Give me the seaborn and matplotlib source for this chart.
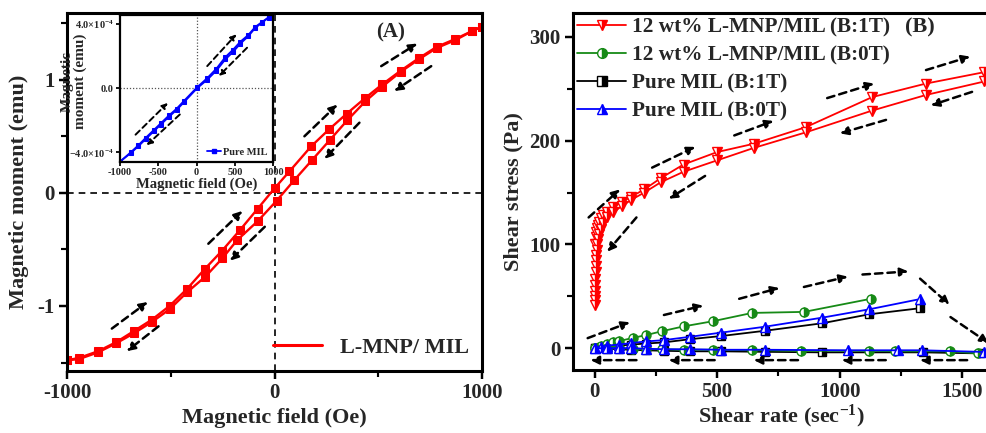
import numpy as np
import pandas as pd
import matplotlib
matplotlib.use("Agg")
import matplotlib.pyplot as plt
from matplotlib.lines import Line2D
from matplotlib.ticker import MultipleLocator
import seaborn as sns

# ---------------- (A) magnetisation loop of L-MNP/MIL ----------------
field_desc = [1000, 952, 871, 781, 695, 608, 520, 438, 348, 262, 176, 72, 0,
              -81, -167, -252, -337, -422, -506, -590, -676, -763, -850, -943, -1000]
moment_desc = [1.47, 1.43, 1.36, 1.29, 1.19, 1.08, 0.96, 0.84, 0.70, 0.56, 0.41, 0.19, 0.04,
               -0.14, -0.33, -0.51, -0.675, -0.85, -1.0, -1.12, -1.22, -1.32, -1.40, -1.46, -1.48]
field_asc = [-1000, -943, -850, -763, -676, -590, -506, -422, -333, -252, -181, -81, 10,
             94, 181, 268, 350, 438, 520, 608, 695, 781, 871, 952, 1000]
moment_asc = [-1.48, -1.47, -1.41, -1.33, -1.24, -1.14, -1.03, -0.88, -0.74, -0.58, -0.42, -0.25, -0.07,
              0.11, 0.29, 0.47, 0.64, 0.81, 0.94, 1.07, 1.18, 1.28, 1.35, 1.43, 1.47]

# inset: pure MIL
pm_field_asc = [-1000, -860, -760, -665, -556, -469, -360, -260, -165, 9, 139, 261, 378,
                478, 574, 674, 769, 856, 943, 1000]
pm_moment_asc = [-4.58e-4, -4.05e-4, -3.62e-4, -3.18e-4, -2.68e-4, -2.28e-4, -1.78e-4, -1.36e-4,
                 -0.88e-4, 0.0, 0.52e-4, 1.10e-4, 1.80e-4, 2.26e-4, 2.78e-4, 3.22e-4, 3.76e-4,
                 4.08e-4, 4.40e-4, 4.62e-4]
pm_field_desc = [1000, 943, 856, 769, 674, 574, 478, 378, 261, 139, 9, -165, -260, -360,
                 -469, -556, -665, -760, -860, -1000]
pm_moment_desc = [4.62e-4, 4.42e-4, 4.12e-4, 3.82e-4, 3.30e-4, 2.90e-4, 2.40e-4, 1.94e-4,
                  1.22e-4, 0.62e-4, 0.06e-4, -0.80e-4, -1.28e-4, -1.70e-4, -2.20e-4, -2.60e-4,
                  -3.10e-4, -3.56e-4, -4.00e-4, -4.58e-4]

# ---------------- (B) flow curves ----------------
red_up_rate = [2, 4, 6, 9, 13, 18, 25, 36, 50, 76, 112, 150, 203, 271, 363, 500, 650, 862,
               1133, 1352, 1590]
red_up_stress = [100, 107, 112, 116, 119, 122, 125, 128, 131, 136, 141, 146, 153, 164, 177,
                 189, 197, 213, 242, 255, 266]
red_down_rate = [1590, 1352, 1133, 862, 650, 500, 363, 271, 203, 150, 112, 76, 50, 36, 25,
                 18, 14, 11, 9, 7, 6, 5, 4, 3, 2.5, 2, 1.5, 1, 0.5]
red_down_stress = [257, 244, 229, 208, 193, 181, 170, 160, 150, 143, 137, 131, 126, 121, 115,
                   110, 105, 100, 95, 90, 85, 79, 73, 67, 61, 55, 50, 46, 42]

green_up_rate = [0, 25, 50, 75, 100, 157, 210, 277, 363, 483, 643, 855, 1127]
green_up_stress = [0, 2.5, 4.5, 5.8, 6.8, 10, 12.6, 16.5, 21, 26, 34, 35, 47.6]
green_down_rate = [1565, 1450, 1225, 1119, 841, 643, 483, 363, 277, 210, 157, 100, 50, 0]
green_down_stress = [-5, -3, -3, -2.5, -2.5, -2, -1.5, -1.5, -1, -1, -0.5, 0, 0, 0]

black_up_rate = [0, 25, 50, 100, 150, 210, 283, 390, 516, 695, 928, 1121, 1327]
black_up_stress = [0, 1, 1.5, 2.5, 3.5, 4.5, 5.6, 8.7, 11.7, 16.8, 24, 32.7, 38.5]
black_down_rate = [1573, 1340, 928, 695, 516, 390, 283, 210, 150, 100, 50, 0]
black_down_stress = [-5, -4, -4, -3.5, -3, -3, -2.5, -2, -1.5, -1, -0.5, 0]

blue_up_rate = [0, 25, 50, 100, 150, 210, 283, 390, 516, 695, 928, 1121, 1327]
blue_up_stress = [0, 1.5, 2.5, 3.5, 5, 6.5, 7.8, 11, 15, 20.7, 29.4, 37.5, 47.3]
blue_down_rate = [1590, 1336, 1236, 1033, 695, 516, 390, 283, 210, 150, 100, 50, 0]
blue_down_stress = [-3.6, -2, -2, -2, -1.5, -1.5, -1, -1, -0.5, 0, 0, 0, 0]

legend_b = ["12 wt% L-MNP/MIL (B:1T)", "12 wt% L-MNP/MIL (B:0T)",
            "Pure MIL (B:1T)", "Pure MIL (B:0T)"]

# dashed direction arrows (start -> end, data coordinates)
arrows_a = [((-784, -1.20), (-611, -0.965)), ((-559, -1.18), (-712, -1.40)),
            ((-319, -0.45), (-155, -0.16)), ((-47, -0.30), (-215, -0.60)),
            ((144, 0.50), (303, 0.78)), ((409, 0.62), (240, 0.30)),
            ((514, 1.12), (688, 1.32)), ((755, 1.12), (577, 0.90))]
arrows_inset = [((140, 1.375e-4), (522, 3.36e-4)), ((661, 2.52e-4), (291, 0.75e-4)),
                ((-797, -2.9e-4), (-375, -0.92e-4)), ((-218, -1.64e-4), (-652, -3.56e-4))]
arrows_b = [((-24, 126), (104, 153)), ((235, 174), (411, 194)), ((570, 205), (730, 219)),
            ((949, 241), (1141, 255)), ((1352, 268), (1532, 281)),
            ((171, 126), (52, 93)), ((451, 166), (303, 144)), ((1189, 220), (1001, 207)),
            ((1540, 247), (1372, 234)),
            ((-28, 9.7), (144, 25)), ((283, 32), (443, 41)), ((590, 47.6), (754, 58)),
            ((854, 59), (1033, 69)), ((1093, 71), (1280, 74)), ((1328, 67), (1448, 42)),
            ((1452, 30), (1607, 5)),
            ((171, -11.5), (-16, -11.5)), ((490, -11.5), (303, -11.5)), ((830, -11.5), (650, -11.5)),
            ((1188, -11.5), (1009, -11.5)), ((1520, -11.5), (1328, -11.5))]

sns.set_theme(style="ticks")
plt.rcParams["font.family"] = ["Liberation Serif", "DejaVu Serif"]
plt.rcParams["font.weight"] = "bold"
plt.rcParams["axes.labelweight"] = "bold"
plt.rcParams["mathtext.fontset"] = "custom"
plt.rcParams["mathtext.rm"] = "Liberation Serif:bold"
plt.rcParams["mathtext.default"] = "rm"

RED = "#ff0000"
GREEN = "#168a16"
BLUE = "#0000ff"

fig = plt.figure(figsize=(9.87, 4.33), dpi=100)
ax_a = fig.add_axes([0.0679, 0.1432, 0.4205, 0.8268])
ax_b = fig.add_axes([0.5805, 0.1455, 0.4230, 0.8245])
ax_in = fig.add_axes([0.1216, 0.6260, 0.1550, 0.3390])


def style_axis(ax, lw=2.2, size=15, major=6, minor=4):
    for s in ax.spines.values():
        s.set_linewidth(lw)
        s.set_color("black")
    ax.tick_params(which="major", direction="out", length=major, width=lw * 0.8,
                   labelsize=size, color="black", pad=3)
    ax.tick_params(which="minor", direction="out", length=minor, width=lw * 0.7, color="black")
    for lab in ax.get_xticklabels() + ax.get_yticklabels():
        lab.set_fontweight("bold")


def dashed_arrows(ax, pairs, lw=1.8, scale=12):
    for (x0, y0), (x1, y1) in pairs:
        ax.annotate("", xy=(x1, y1), xytext=(x0, y0),
                    arrowprops=dict(arrowstyle="-|>", color="black", lw=lw,
                                    linestyle=(0, (3, 2)), mutation_scale=scale,
                                    shrinkA=0, shrinkB=0))


def branch(ax, x, y, color, marker, ms, lw, **kw):
    df = pd.DataFrame({"x": x, "y": y})
    sns.lineplot(data=df, x="x", y="y", ax=ax, sort=False, estimator=None,
                 color=color, marker=marker, markersize=ms, linewidth=lw,
                 markeredgecolor=color, legend=False, **kw)


# ---- panel A
ax_a.axhline(0, color="black", lw=1.2, ls=(0, (4, 3)), zorder=1)
ax_a.axvline(0, color="black", lw=1.2, ls=(0, (4, 3)), zorder=1)
branch(ax_a, field_desc, moment_desc, RED, "s", 5.5, 1.7)
branch(ax_a, field_asc, moment_asc, RED, "s", 5.5, 1.7)
ax_a.set_xlim(-1000, 1000)
ax_a.set_ylim(-1.575, 1.59)
ax_a.set_xticks([-1000, 0, 1000])
ax_a.set_yticks([-1, 0, 1])
ax_a.set_xticklabels(["-1000", "0", "1000"])
ax_a.set_yticklabels(["-1", "0", "1"])
ax_a.xaxis.set_minor_locator(MultipleLocator(500))
ax_a.yaxis.set_minor_locator(MultipleLocator(0.5))
ax_a.set_xlabel("Magnetic field (Oe)", fontsize=16, fontweight="bold", labelpad=3)
ax_a.set_ylabel("Magnetic moment (emu)", fontsize=16, fontweight="bold", labelpad=6)
style_axis(ax_a)
dashed_arrows(ax_a, arrows_a)
ax_a.text(0.745, 0.945, "(A)", transform=ax_a.transAxes, fontsize=15, fontweight="bold",
          va="center")
ax_a.legend(handles=[Line2D([0], [0], color=RED, lw=2.2)], labels=["L-MNP/ MIL"],
            loc="lower right", frameon=False, handlelength=2.2,
            prop={"size": 16, "weight": "bold"}, borderaxespad=0.2, handletextpad=0.8)

# ---- inset
ax_in.axhline(0, color="#555555", lw=0.9, ls=(0, (1, 1.5)), zorder=1)
ax_in.axvline(0, color="#555555", lw=0.9, ls=(0, (1, 1.5)), zorder=1)
branch(ax_in, pm_field_asc, pm_moment_asc, BLUE, "s", 3.5, 1.3)
branch(ax_in, pm_field_desc, pm_moment_desc, BLUE, "s", 3.5, 1.3)
ax_in.set_xlim(-1000, 1000)
ax_in.set_ylim(-4.6e-4, 4.55e-4)
ax_in.set_xticks([-1000, -500, 0, 500, 1000])
ax_in.set_xticklabels(["-1000", "-500", "0", "500", "1000"])
ax_in.set_yticks([-4e-4, 0, 4e-4])
ax_in.set_yticklabels(["\u22124.0\u00d710$^{-4}$", "0.0", "4.0\u00d710$^{-4}$"])
ax_in.set_xlabel("Magnetic field (Oe)", fontsize=10.5, fontweight="bold", labelpad=0)
ax_in.set_ylabel("Magnetic\nmoment (emu)", fontsize=11, fontweight="bold",
                 linespacing=1.0)
ax_in.yaxis.set_label_coords(-0.215, 0.55)
style_axis(ax_in, lw=1.6, size=7.5, major=3, minor=2)
ax_in.tick_params(pad=1.5)
dashed_arrows(ax_in, arrows_inset, lw=1.4, scale=8)
ax_in.legend(handles=[Line2D([0], [0], color=BLUE, lw=1.3, marker="s", markersize=3.5)],
             labels=["Pure MIL"], loc="lower right", frameon=False, handlelength=1.4,
             prop={"size": 7.5, "weight": "bold"}, borderaxespad=0.1, handletextpad=0.2)

# ---- panel B
mk = dict(fillstyle="right", markerfacecoloralt="white", markeredgewidth=1.0)
branch(ax_b, red_up_rate, red_up_stress, RED, "v", 7, 1.3, **mk)
branch(ax_b, red_down_rate, red_down_stress, RED, "v", 7, 1.3, **mk)
branch(ax_b, black_up_rate, black_up_stress, "black", "s", 6, 1.3, **mk)
branch(ax_b, black_down_rate, black_down_stress, "black", "s", 6, 1.3, **mk)
branch(ax_b, green_up_rate, green_up_stress, GREEN, "o", 6.5, 1.3, **mk)
branch(ax_b, green_down_rate, green_down_stress, GREEN, "o", 6.5, 1.3, **mk)
branch(ax_b, blue_up_rate, blue_up_stress, BLUE, "^", 7, 1.3, **mk)
branch(ax_b, blue_down_rate, blue_down_stress, BLUE, "^", 7, 1.3, **mk)
ax_b.set_xlim(-88, 1615)
ax_b.set_ylim(-21, 323)
ax_b.set_xticks([0, 500, 1000, 1500])
ax_b.set_yticks([0, 100, 200, 300])
ax_b.xaxis.set_minor_locator(MultipleLocator(250))
ax_b.yaxis.set_minor_locator(MultipleLocator(50))
ax_b.set_xlabel("Shear rate (sec$^{-1}$)", fontsize=16, fontweight="bold", labelpad=0)
ax_b.set_ylabel("Shear stress (Pa)", fontsize=16, fontweight="bold", labelpad=4)
style_axis(ax_b)
dashed_arrows(ax_b, arrows_b)

handles_b = [Line2D([0], [0], color=c, lw=1.3, marker=m, markersize=7, markeredgecolor=c, **mk)
             for c, m in [(RED, "v"), (GREEN, "o"), ("black", "s"), (BLUE, "^")]]
ax_b.legend(handles=handles_b, labels=legend_b, loc="upper left", frameon=False,
            bbox_to_anchor=(0.0, 1.0), prop={"size": 15.3, "weight": "bold"},
            handlelength=2.3, handletextpad=0.3, labelspacing=0.38,
            borderaxespad=0.0, borderpad=0.2)
ax_b.text(0.796, 0.96, "(B)", transform=ax_b.transAxes, fontsize=16, fontweight="bold",
          va="center")

fig.savefig("out.png", dpi=100)
